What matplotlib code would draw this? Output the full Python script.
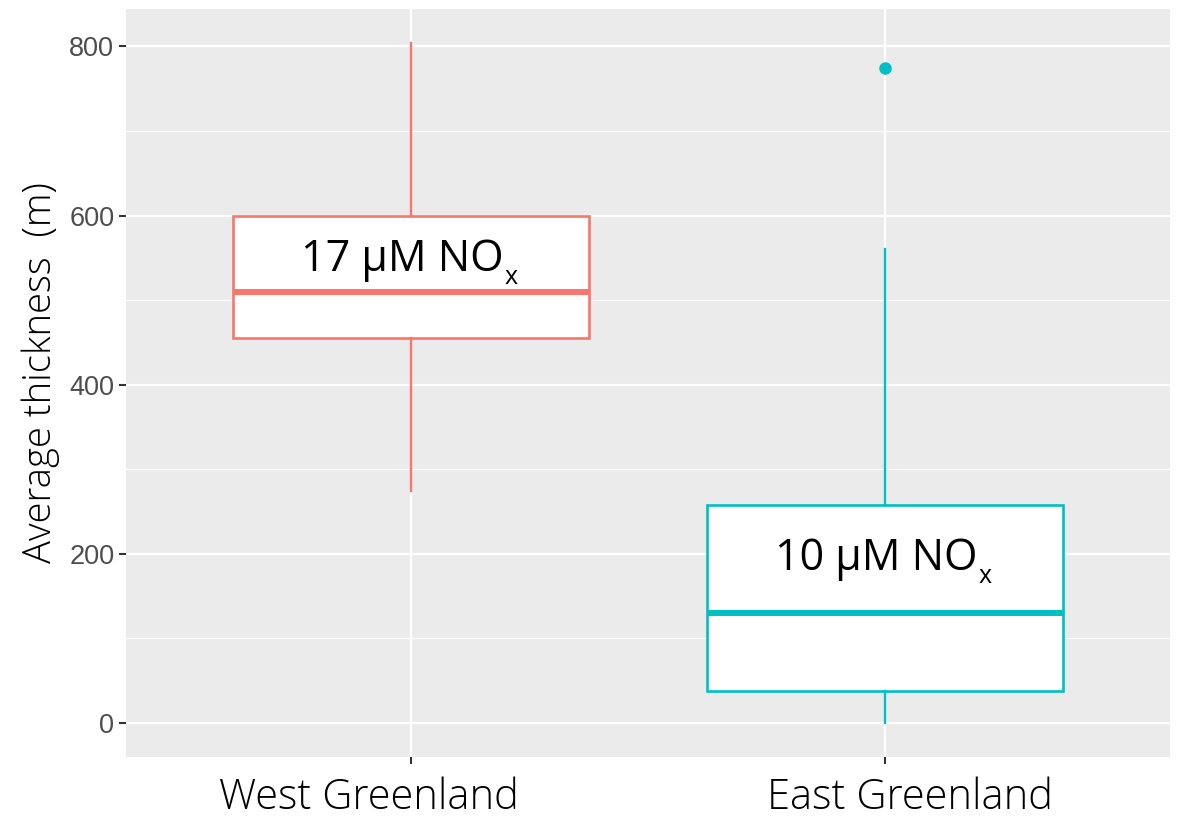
import matplotlib.pyplot as plt
from matplotlib.ticker import MultipleLocator
from matplotlib.transforms import ScaledTranslation

regions = ["West Greenland", "East Greenland"]
colors = ["#F8766D", "#00BFC4"]
q1 = [455, 38]
med = [510, 130]
q3 = [600, 258]
whislo = [274, 0]
whishi = [804, 561]
outliers = [[], [775]]
labels = ["17 μM NO", "10 μM NO"]
label_sub = ["x", "x"]
label_y = [548, 194]

fig, ax = plt.subplots(figsize=(11.79, 8.21), dpi=100)
fig.subplots_adjust(left=0.107, right=0.992, top=0.989, bottom=0.078)

ax.set_facecolor("#EBEBEB")
for s in ax.spines.values():
    s.set_visible(False)

positions = [1, 2]
stats = []
for i in range(len(regions)):
    stats.append(dict(med=med[i], q1=q1[i], q3=q3[i], whislo=whislo[i],
                      whishi=whishi[i], fliers=outliers[i]))

for i, st in enumerate(stats):
    c = colors[i]
    ax.bxp([st], positions=[positions[i]], widths=0.75, showcaps=False,
           patch_artist=True,
           boxprops=dict(facecolor="white", edgecolor=c, linewidth=1.9),
           whiskerprops=dict(color=c, linewidth=1.7),
           medianprops=dict(color=c, linewidth=4.3, solid_capstyle="butt"),
           flierprops=dict(marker="o", markerfacecolor=c, markeredgecolor=c,
                           markersize=8),
           zorder=3)
    # main label, then a lowered subscript right after it
    main = ax.annotate(labels[i], xy=(positions[i], label_y[i]),
                       xytext=(-6, 0), textcoords="offset points",
                       ha="center", va="center", fontsize=31,
                       family="Open Sans", color="black", zorder=5)
    ax.annotate(label_sub[i], xy=(1, 0), xycoords=main,
                xytext=(0.3, -1.5), textcoords="offset points",
                ha="left", va="baseline", fontsize=18,
                family="Open Sans", color="black", zorder=5)

ax.set_xlim(0.4, 2.6)
ax.set_ylim(-40.2, 844.2)
ax.set_xticks(positions)
ax.set_xticklabels(regions, family="Open Sans", fontsize=30, fontweight="light",
                   color="black")
ax.yaxis.set_major_locator(MultipleLocator(200))
ax.yaxis.set_minor_locator(MultipleLocator(100))
ax.tick_params(axis="y", which="major", labelsize=19.5, labelcolor="#4D4D4D",
               color="#333333", length=5, width=1.5, pad=3.5)
ax.tick_params(axis="y", which="minor", length=0)
ax.tick_params(axis="x", color="#333333", length=5, width=1.5, pad=9)
for t in ax.get_yticklabels():
    t.set_family("Liberation Sans")

# the region names sit a little off their ticks
shifts = [-0.42, 0.25]
for t, dx in zip(ax.get_xticklabels(), shifts):
    t.set_transform(t.get_transform() + ScaledTranslation(dx, 0, fig.dpi_scale_trans))

ax.grid(which="major", axis="both", color="white", linewidth=1.6, zorder=0)
ax.grid(which="minor", axis="y", color="white", linewidth=0.8, zorder=0)
ax.set_axisbelow(True)

ax.set_ylabel("Average thickness  (m)", family="Open Sans", fontsize=27.5,
              fontweight="light", color="black")
ax.yaxis.set_label_coords(-0.063, 0.514)

fig.savefig("out.png", dpi=100)
